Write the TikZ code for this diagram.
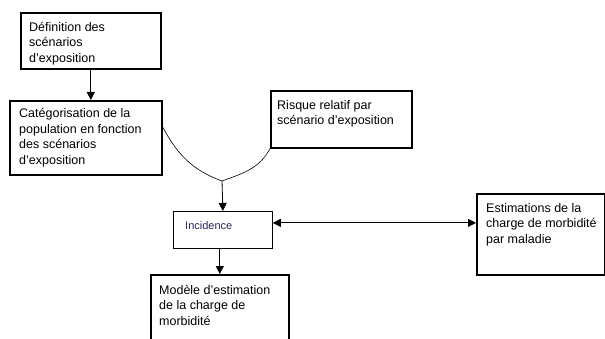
\documentclass[tikz,border=0pt]{standalone}
\usepackage{fontspec}
\setmainfont{Liberation Sans}
\usetikzlibrary{arrows.meta}
\definecolor{incink}{RGB}{45,35,85}

\begin{document}
\begin{tikzpicture}[x=1pt, y=-1pt,
   box/.style={draw, line width=1.6pt, anchor=north west, inner sep=0pt},
   thinbox/.style={draw, line width=0.8pt, anchor=north west, inner sep=0pt},
   txt/.style={anchor=north west, inner sep=0pt, align=left,
      font=\fontsize{12.5}{15.5}\selectfont, execute at begin node=\strut},
   link/.style={line width=0.8pt, -{Triangle[length=8pt,width=8pt]}}]
   \useasboundingbox (0,0) rectangle (605,339);
   % boxes
   \node[box, minimum width=140pt, minimum height=56pt] (def) at (20,12) {};
   \node[box, minimum width=152pt, minimum height=74pt] (cat) at (9,100) {};
   \node[box, minimum width=141pt, minimum height=57pt] (risk) at (270,90) {};
   \node[thinbox, minimum width=99pt, minimum height=37pt] (inc) at (173,211) {};
   \node[box, minimum width=128pt, minimum height=81pt] (est) at (476,193) {};
   \node[box, minimum width=138pt, minimum height=80pt] (mod) at (150,274) {};
   % texts
   \node[txt] (defT) at (29,22) {D\'efinition des\\sc\'enarios\\d'exposition};
   \node[txt] (catT) at (19,108.5) {Cat\'egorisation de la\\population en fonction\\des sc\'enarios\\d'exposition};
   \node[txt] (riskT) at (277,100) {Risque relatif par\\sc\'enario d'exposition};
   \node[txt] (estT) at (486,203) {Estimations de la\\charge de morbidit\'e\\par maladie};
   \node[txt] (modT) at (159,285) {Mod\`ele d'estimation\\de la charge de\\morbidit\'e};
   \node[anchor=north west, inner sep=0pt, text=incink,
      font=\fontsize{11}{13}\selectfont, execute at begin node=\strut] (incT) at (185,220.5) {Incidence};
   % connectors
   \coordinate (join) at (222,181);
   \draw[line width=0.6pt] ([yshift=11pt]cat.east) to[out=-62,in=160] (join);
   \draw[line width=0.6pt] (risk.south west) to[out=-118,in=20] (join);
   \draw[link] (join) -- (inc.north);
   \draw[link] (def.south) -- (def.south |- cat.north);
   \draw[link] (mod.north |- inc.south) -- (mod.north);
   \draw[line width=0.8pt, {Triangle[length=8pt,width=8pt]}-{Triangle[length=8pt,width=8pt]}]
      ([yshift=7pt]inc.east) -- ([yshift=7pt]inc.east -| est.west);
\end{tikzpicture}
\end{document}
